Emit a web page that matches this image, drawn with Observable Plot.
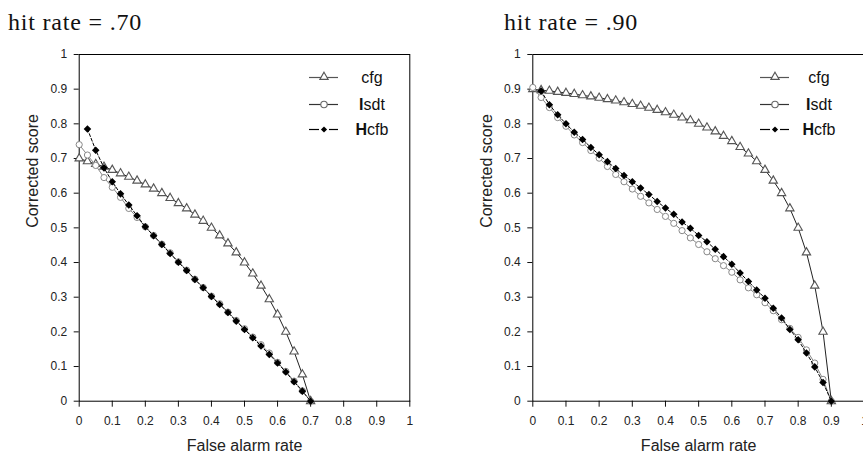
<!DOCTYPE html>
<html><head><meta charset="utf-8">
<script src="https://cdn.jsdelivr.net/npm/d3@7"></script>
<script src="https://cdn.jsdelivr.net/npm/@observablehq/plot@0.6"></script>
<style>
html,body{margin:0;padding:0;background:#fff;}
body{width:863px;height:455px;overflow:hidden;position:relative;font-family:"Liberation Sans",Arial,sans-serif;}
.panel{position:absolute;top:0;height:455px;}
.panel > svg{position:absolute;left:0;top:0;}
.title{position:absolute;top:10px;font-family:"Liberation Serif","Times New Roman",serif;font-size:24px;line-height:24px;letter-spacing:0.8px;color:#111;white-space:nowrap;}
</style></head><body>
<div id="chart"></div>
<script>
// ---- data ----
const titles = ["hit rate = .70", "hit rate = .90"];
const xTicks = [0, 0.1, 0.2, 0.3, 0.4, 0.5, 0.6, 0.7, 0.8, 0.9, 1];
const yTicks = [0, 0.1, 0.2, 0.3, 0.4, 0.5, 0.6, 0.7, 0.8, 0.9, 1];
const xLabel = "False alarm rate";
const yLabel = "Corrected score";
const legendNames = ["cfg", "Isdt", "Hcfb"];

const falseAlarm70 = [0, 0.025, 0.05, 0.075, 0.1, 0.125, 0.15, 0.175, 0.2, 0.225, 0.25, 0.275, 0.3, 0.325, 0.35, 0.375, 0.4, 0.425, 0.45, 0.475, 0.5, 0.525, 0.55, 0.575, 0.6, 0.625, 0.65, 0.675, 0.7];
const cfg70  = [0.70, 0.692, 0.684, 0.676, 0.667, 0.657, 0.647, 0.636, 0.625, 0.613, 0.600, 0.586, 0.571, 0.556, 0.538, 0.520, 0.500, 0.478, 0.455, 0.429, 0.400, 0.368, 0.333, 0.294, 0.250, 0.200, 0.143, 0.077, 0.0];
const isdt70 = [0.740, 0.710, 0.680, 0.645, 0.617, 0.588, 0.556, 0.530, 0.503, 0.478, 0.453, 0.428, 0.402, 0.378, 0.352, 0.328, 0.303, 0.281, 0.257, 0.233, 0.209, 0.185, 0.163, 0.139, 0.112, 0.086, 0.058, 0.030, 0.0];
const hcfb70 = [null, 0.785, 0.724, 0.673, 0.633, 0.598, 0.566, 0.535, 0.503, 0.477, 0.452, 0.426, 0.401, 0.377, 0.351, 0.327, 0.302, 0.279, 0.256, 0.231, 0.207, 0.183, 0.159, 0.135, 0.110, 0.084, 0.056, 0.029, 0.0];

const falseAlarm90 = [0, 0.025, 0.05, 0.075, 0.1, 0.125, 0.15, 0.175, 0.2, 0.225, 0.25, 0.275, 0.3, 0.325, 0.35, 0.375, 0.4, 0.425, 0.45, 0.475, 0.5, 0.525, 0.55, 0.575, 0.6, 0.625, 0.65, 0.675, 0.7, 0.725, 0.75, 0.775, 0.8, 0.825, 0.85, 0.875, 0.9];
const cfg90  = [0.900, 0.897, 0.895, 0.892, 0.889, 0.886, 0.882, 0.879, 0.875, 0.871, 0.867, 0.862, 0.857, 0.852, 0.846, 0.840, 0.833, 0.826, 0.818, 0.810, 0.800, 0.789, 0.778, 0.765, 0.750, 0.733, 0.714, 0.692, 0.667, 0.636, 0.600, 0.556, 0.500, 0.429, 0.333, 0.200, 0.0];
const isdt90 = [0.905, 0.876, 0.847, 0.818, 0.793, 0.768, 0.746, 0.723, 0.701, 0.677, 0.654, 0.633, 0.612, 0.591, 0.572, 0.553, 0.533, 0.513, 0.492, 0.471, 0.452, 0.431, 0.411, 0.391, 0.372, 0.350, 0.327, 0.307, 0.284, 0.261, 0.235, 0.210, 0.184, 0.148, 0.110, 0.063, 0.0];
const hcfb90 = [null, 0.895, 0.855, 0.826, 0.800, 0.776, 0.755, 0.732, 0.711, 0.691, 0.671, 0.651, 0.633, 0.615, 0.596, 0.576, 0.557, 0.539, 0.517, 0.499, 0.478, 0.460, 0.438, 0.417, 0.395, 0.370, 0.345, 0.321, 0.297, 0.268, 0.240, 0.207, 0.177, 0.139, 0.099, 0.054, 0.0];

// ---- layout ----
const panels = [
  {title: titles[0], xs: falseAlarm70, cfg: cfg70, isdt: isdt70, hcfb: hcfb70,
   left: 0, width: 432, marginLeft: 78.7, marginRight: 22.7, titleX: 8, legLine: 309, legText: 372},
  {title: titles[1], xs: falseAlarm90, cfg: cfg90, isdt: isdt90, hcfb: hcfb90,
   left: 432, width: 440, marginLeft: 100.3, marginRight: 8, titleX: 72, legLine: 328, legText: 387}
];

const fmt = d => String(+d.toFixed(1));
const root = document.getElementById("chart");

for (const p of panels) {
  const rows = p.xs.map((x, i) => ({x, cfg: p.cfg[i], isdt: p.isdt[i], hcfb: p.hcfb[i]}));
  const rc = rows.filter(d => d.cfg != null);
  const ri = rows.filter(d => d.isdt != null);
  const rh = rows.filter(d => d.hcfb != null);

  const chart = Plot.plot({
    width: p.width, height: 455,
    marginTop: 54, marginBottom: 54.3, marginLeft: p.marginLeft, marginRight: p.marginRight,
    x: {domain: [0, 1]}, y: {domain: [0, 1]},
    style: {fontFamily: "'Liberation Sans', Arial, sans-serif", background: "transparent", color: "#222", overflow: "visible"},
    marks: [
      Plot.axisX({ticks: xTicks, tickFormat: fmt, tickSize: 6, tickPadding: 9, fontSize: 12, label: null, stroke: "#111"}),
      Plot.axisY({ticks: yTicks, tickFormat: fmt, tickSize: 5, tickPadding: 7, fontSize: 12, label: null, stroke: "#111"}),
      Plot.frame({stroke: "#000"}),
      Plot.text([xLabel], {text: d => d, frameAnchor: "bottom", dy: 45, fontSize: 16, lineAnchor: "middle", fill: "#222"}),
      Plot.text([yLabel], {text: d => d, frameAnchor: "left", dx: -46, rotate: -90, fontSize: 16, lineAnchor: "middle", fill: "#222"}),
      Plot.line(rc, {x: "x", y: "cfg", stroke: "#222", strokeWidth: 1}),
      Plot.dot(rc, {x: "x", y: "cfg", symbol: "triangle", r: 3.1, fill: "white", stroke: "#555", strokeWidth: 1.1}),
      Plot.line(ri, {x: "x", y: "isdt", stroke: "#888", strokeWidth: 1}),
      Plot.dot(ri, {x: "x", y: "isdt", symbol: "circle", r: 3.1, fill: "white", stroke: "#888", strokeWidth: 1}),
      Plot.line(rh, {x: "x", y: "hcfb", stroke: "#000", strokeWidth: 1, strokeDasharray: "3,2"}),
      Plot.dot(rh, {x: "x", y: "hcfb", symbol: "diamond2", r: 3.4, fill: "#000", stroke: "none"})
    ]
  });

  const div = document.createElement("div");
  div.className = "panel";
  div.style.left = p.left + "px";
  div.style.width = p.width + "px";
  div.appendChild(chart);

  const t = document.createElement("div");
  t.className = "title";
  t.style.left = p.titleX + "px";
  t.textContent = p.title;
  div.appendChild(t);

  // legend overlay
  const svg = d3.select(div).append("svg")
    .attr("width", p.width).attr("height", 455)
    .style("position", "absolute").style("left", "0px").style("top", "0px")
    .style("font-family", "'Liberation Sans', Arial, sans-serif");
  const rowsY = [77, 104, 129];
  const lineColors = ["#555", "#333", "#000"];
  legendNames.forEach((name, i) => {
    const y = rowsY[i] + 0.5, x0 = p.legLine, x1 = p.legLine + 29, xc = p.legLine + 15;
    const g = svg.append("g");
    if (i === 2) {
      g.append("line").attr("x1", x0).attr("x2", xc - 5).attr("y1", y).attr("y2", y).attr("stroke", lineColors[i]).attr("stroke-width", 1.2);
      g.append("line").attr("x1", xc + 5).attr("x2", x1).attr("y1", y).attr("y2", y).attr("stroke", lineColors[i]).attr("stroke-width", 1.2);
    } else {
      g.append("line").attr("x1", x0).attr("x2", x1).attr("y1", y).attr("y2", y).attr("stroke", lineColors[i]).attr("stroke-width", 1.2);
    }
    if (i === 0) {
      g.append("path").attr("d", d3.symbol(d3.symbolTriangle, Math.PI * 3.1 * 3.1)()).attr("transform", `translate(${xc},${y - 0.5})`)
        .attr("fill", "white").attr("stroke", "#555").attr("stroke-width", 1.1);
    } else if (i === 1) {
      g.append("circle").attr("cx", xc).attr("cy", y).attr("r", 3.2).attr("fill", "white").attr("stroke", "#666").attr("stroke-width", 1.1);
    } else {
      g.append("path").attr("d", d3.symbol(d3.symbolDiamond2, Math.PI * 2.8 * 2.8)()).attr("transform", `translate(${xc},${y})`).attr("fill", "#000");
    }
    const tx = g.append("text").attr("x", p.legText).attr("y", rowsY[i]).attr("dy", "0.35em")
      .attr("text-anchor", "middle").attr("font-size", 16).attr("fill", "#111");
    if (i === 0) {
      tx.text(name);
    } else {
      tx.append("tspan").attr("font-weight", "bold").text(name.slice(0, 1));
      tx.append("tspan").text(name.slice(1));
    }
  });

  root.appendChild(div);
}
</script>
</body></html>
